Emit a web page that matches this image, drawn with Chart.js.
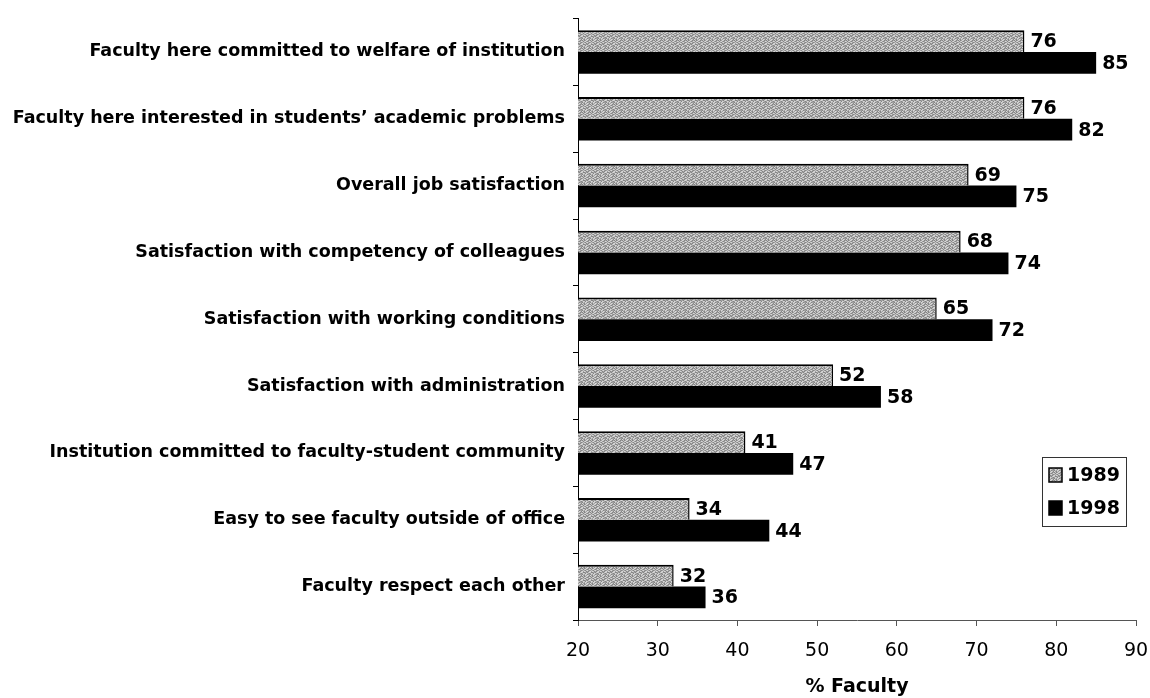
<!DOCTYPE html>
<html>
<head>
<meta charset="utf-8">
<script src="https://cdn.jsdelivr.net/npm/chart.js@4/dist/chart.umd.min.js"></script>
<style>
  body { margin: 0; background: #fff; }
  #wrap { width: 1150px; height: 698px; }
</style>
</head>
<body>
<div id="wrap"><canvas id="grafica"></canvas></div>
<script>
// Datos
const categorias = [
  'Faculty here committed to welfare of institution',
  'Faculty here interested in students\u2019 academic problems',
  'Overall job satisfaction',
  'Satisfaction with competency of colleagues',
  'Satisfaction with working conditions',
  'Satisfaction with administration',
  'Institution committed to faculty-student community',
  'Easy to see faculty outside of office',
  'Faculty respect each other'
];
const valores1989 = [76, 76, 69, 68, 65, 52, 41, 34, 32];
const valores1998 = [85, 82, 75, 74, 72, 58, 47, 44, 36];
const etiquetasSerie = ['1989', '1998'];
const ejeMin = 20, ejeMax = 90, ejePaso = 10;

const FUENTE = '"DejaVu Sans", "Liberation Sans", Arial, sans-serif';

// Trama punteada gris para la serie 1989 (fija, sin aleatorios)
function crearTrama(ctx) {
  const mapa = [
    '21302120',
    '03121302',
    '12031210',
    '30212031',
    '21120302',
    '02301213',
    '13021120',
    '20130231'
  ];
  const tonos = ['#c4c4c4', '#a0a0a0', '#858585', '#d8d8d8'];
  const c = document.createElement('canvas');
  c.width = 8; c.height = 8;
  const g = c.getContext('2d');
  mapa.forEach((fila, y) => {
    for (let x = 0; x < 8; x++) {
      g.fillStyle = tonos[+fila[x]];
      g.fillRect(x, y, 1, 1);
    }
  });
  return ctx.createPattern(c, 'repeat');
}

const canvas = document.getElementById('grafica');
const ctx = canvas.getContext('2d');
const trama = crearTrama(ctx);

// Etiquetas de valor a la derecha de cada barra
const etiquetasValor = {
  id: 'etiquetasValor',
  afterDatasetsDraw(chart) {
    const c = chart.ctx;
    c.save();
    c.font = 'bold 19px ' + FUENTE;
    c.fillStyle = '#000';
    c.textAlign = 'left';
    c.textBaseline = 'middle';
    chart.data.datasets.forEach((ds, i) => {
      chart.getDatasetMeta(i).data.forEach((bar, j) => {
        c.fillText(ds.data[j], bar.x + 6, bar.y + 1);
      });
    });
    c.restore();
  }
};

// Leyenda dentro del área del gráfico, abajo a la derecha
const leyenda = {
  id: 'leyendaCaja',
  afterDraw(chart) {
    const c = chart.ctx;
    const a = chart.chartArea;
    const x0 = a.right - 94, y0 = a.bottom - 163, w = 84, h = 69;
    c.save();
    c.fillStyle = '#fff';
    c.fillRect(x0, y0, w, h);
    c.strokeStyle = '#333';
    c.lineWidth = 1;
    c.strokeRect(x0 + 0.5, y0 + 0.5, w, h);
    c.font = 'bold 19px ' + FUENTE;
    c.textAlign = 'left';
    c.textBaseline = 'middle';
    chart.data.datasets.forEach((ds, i) => {
      const cy = y0 + 18 + i * 33;
      c.fillStyle = ds.backgroundColor;
      c.fillRect(x0 + 7, cy - 7, 13, 14);
      c.strokeStyle = '#000';
      c.lineWidth = 1.5;
      c.strokeRect(x0 + 7, cy - 7, 13, 14);
      c.fillStyle = '#000';
      c.fillText(ds.label, x0 + 25, cy + 1);
    });
    c.restore();
  }
};

new Chart(ctx, {
  type: 'bar',
  data: {
    labels: categorias,
    datasets: [
      {
        label: etiquetasSerie[0],
        data: valores1989,
        backgroundColor: trama,
        borderColor: '#000',
        borderWidth: { top: 2, right: 1.5, bottom: 0, left: 0 },
        borderSkipped: false,
        categoryPercentage: 0.65,
        barPercentage: 1.0
      },
      {
        label: etiquetasSerie[1],
        data: valores1998,
        backgroundColor: '#000',
        borderWidth: 0,
        categoryPercentage: 0.65,
        barPercentage: 1.0
      }
    ]
  },
  options: {
    indexAxis: 'y',
    responsive: true,
    maintainAspectRatio: false,
    animation: false,
    devicePixelRatio: 1,
    layout: { padding: { top: 13, right: 14, left: 0, bottom: 0 } },
    plugins: {
      legend: { display: false },
      tooltip: { enabled: false }
    },
    scales: {
      x: {
        min: ejeMin,
        max: ejeMax,
        ticks: {
          stepSize: ejePaso,
          color: '#000',
          font: { family: FUENTE, size: 19 },
          padding: 14,
          maxRotation: 0
        },
        grid: {
          drawOnChartArea: false,
          drawTicks: true,
          tickLength: 6,
          color: '#555'
        },
        border: { color: '#555', width: 1 },
        title: {
          display: true,
          text: '% Faculty',
          color: '#000',
          font: { family: FUENTE, size: 19, weight: 'bold' },
          padding: { top: 0, bottom: 0 }
        },
        afterFit(scale) {
          scale.height = 78;
          scale.paddingLeft = 0;
          scale.paddingRight = 0;
        }
      },
      y: {
        ticks: {
          color: '#000',
          font: { family: FUENTE, size: 17.5, weight: 'bold' },
          padding: 8,
          autoSkip: false
        },
        grid: {
          drawOnChartArea: false,
          drawTicks: true,
          tickLength: 5,
          color: '#000',
          offset: true
        },
        border: { color: '#000', width: 1 },
        afterFit(scale) { scale.width = 578; }
      }
    }
  },
  plugins: [etiquetasValor, leyenda]
});
</script>
</body>
</html>
